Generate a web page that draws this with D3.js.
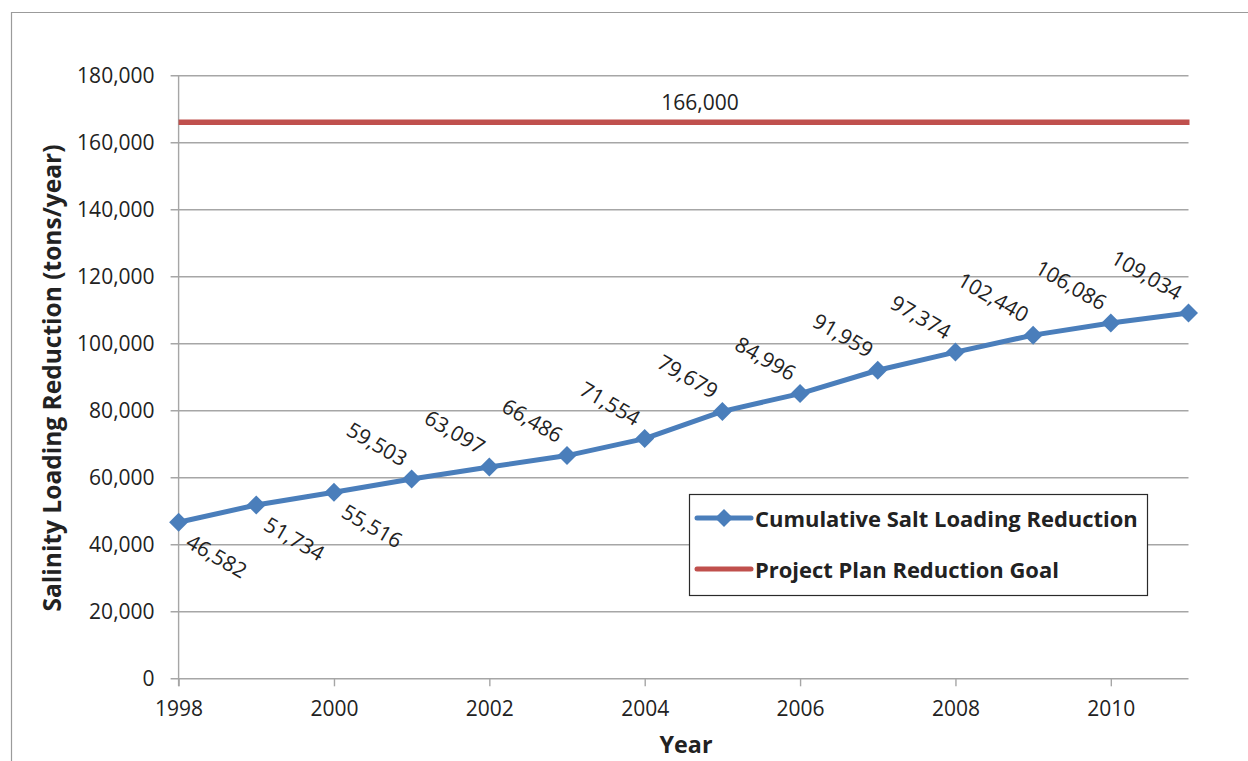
<!DOCTYPE html>
<html>
<head>
<meta charset="utf-8">
<script src="https://cdn.jsdelivr.net/npm/d3@7/dist/d3.min.js"></script>
<style>
  html, body { margin: 0; padding: 0; background: #fff; }
  svg { display: block; }
  text { font-family: "Open Sans", "Liberation Sans", sans-serif; fill: #222; }
</style>
</head>
<body>
<svg id="chart" width="1248" height="761"></svg>
<script>
// ---- data ----
const years = [1998, 1999, 2000, 2001, 2002, 2003, 2004, 2005, 2006, 2007, 2008, 2009, 2010, 2011];
const cumulative = [46582, 51734, 55516, 59503, 63097, 66486, 71554, 79679, 84996, 91959, 97374, 102440, 106086, 109034];
const goalValue = 166000;
const yTicks = [0, 20000, 40000, 60000, 80000, 100000, 120000, 140000, 160000, 180000];
const xTicks = [1998, 2000, 2002, 2004, 2006, 2008, 2010];
const seriesNames = ["Cumulative Salt Loading Reduction", "Project Plan Reduction Goal"];
const xTitle = "Year";
const yTitle = "Salinity Loading Reduction (tons/year)";

// ---- layout ----
const svg = d3.select("#chart");
const W = 1248, H = 761;
const blue = "#4a7ebb", red = "#c0504d", grid = "#a6a6a6";
const fmt = d3.format(",");

const x = d3.scaleLinear().domain([1998, 2011]).range([178.6, 1188.5]);
const y = d3.scaleLinear().domain([0, 180000]).range([678.3, 75.3]);

// outer frame
svg.append("path")
  .attr("d", `M11.5,${H} L11.5,12.5 L${W},12.5`)
  .attr("fill", "none").attr("stroke", "#9b9b9b").attr("stroke-width", 1.2);

// y gridlines + ticks
const yAxis = d3.axisLeft(y).tickValues(yTicks).tickFormat(fmt)
  .tickSize(-(x.range()[1] - x.range()[0])).tickSizeOuter(0).tickPadding(24);
const gy = svg.append("g").attr("transform", `translate(${x.range()[0]},0)`).call(yAxis);
gy.select(".domain").remove();
gy.selectAll(".tick line").attr("stroke", grid).attr("stroke-width", 1.4)
  .attr("x1", -8);
gy.selectAll(".tick text").attr("font-size", 21).attr("fill", "#222")
  .attr("font-family", "Open Sans");

// vertical axis line
svg.append("line")
  .attr("x1", x.range()[0]).attr("x2", x.range()[0])
  .attr("y1", y(180000)).attr("y2", y(0) + 8)
  .attr("stroke", grid).attr("stroke-width", 1.4);

// x axis
const xAxis = d3.axisBottom(x).tickValues(xTicks).tickFormat(d3.format("d"))
  .tickSize(8).tickSizeOuter(0).tickPadding(15);
const gx = svg.append("g").attr("transform", `translate(0,${y(0)})`).call(xAxis);
gx.select(".domain").remove();
gx.selectAll(".tick line").attr("stroke", grid).attr("stroke-width", 1.4);
gx.selectAll(".tick text").attr("font-size", 21).attr("fill", "#222")
  .attr("font-family", "Open Sans");

// goal line
svg.append("line")
  .attr("x1", x(1998)).attr("x2", x(2011) + 1)
  .attr("y1", y(goalValue)).attr("y2", y(goalValue))
  .attr("stroke", red).attr("stroke-width", 5.5);
svg.append("text")
  .attr("x", 700).attr("y", y(goalValue) - 12)
  .attr("text-anchor", "middle").attr("font-size", 21)
  .text(fmt(goalValue));

// cumulative line
const pts = years.map((yr, i) => ({ yr, v: cumulative[i], i }));
svg.append("path")
  .datum(pts)
  .attr("d", d3.line().x(d => x(d.yr)).y(d => y(d.v)))
  .attr("fill", "none").attr("stroke", blue).attr("stroke-width", 5)
  .attr("stroke-linejoin", "round");

const diamond = r => `M0,${-r} L${r},0 L0,${r} L${-r},0 Z`;
svg.append("g").selectAll("path").data(pts).join("path")
  .attr("transform", d => `translate(${x(d.yr)},${y(d.v)})`)
  .attr("d", diamond(9.5)).attr("fill", blue);

// data labels, rotated 30deg
svg.append("g").selectAll("text").data(pts).join("text")
  .attr("font-size", 21)
  .attr("text-anchor", d => d.i < 3 ? "start" : "end")
  .attr("transform", d => {
    const below = d.i < 3;
    let ax = x(d.yr) + (below ? 6 : -10);
    const ay = y(d.v) + (below ? 24 : -12);
    if (!below) ax = Math.min(ax, x.range()[1] - 12);
    return `translate(${ax},${ay}) rotate(30)`;
  })
  .text(d => fmt(d.v));

// axis titles (fit width)
function fitText(sel, target) {
  const w = sel.node().getComputedTextLength();
  const fs = parseFloat(sel.attr("font-size"));
  sel.attr("font-size", fs * target / w);
}
const xt = svg.append("text")
  .attr("x", 686).attr("y", 753).attr("text-anchor", "middle")
  .attr("font-weight", "bold").attr("font-size", 25).text(xTitle);
fitText(xt, 53);
const yt = svg.append("text")
  .attr("transform", "translate(61,378) rotate(-90)").attr("text-anchor", "middle")
  .attr("font-weight", "bold").attr("font-size", 25).text(yTitle);
fitText(yt, 467);

// legend
const lg = svg.append("g");
lg.append("rect").attr("x", 689.5).attr("y", 494.5).attr("width", 458).attr("height", 101)
  .attr("fill", "#fff").attr("stroke", "#2a2a2a").attr("stroke-width", 1.2);
const legendRows = [
  { name: seriesNames[0], color: blue, marker: true, yy: 518 },
  { name: seriesNames[1], color: red, marker: false, yy: 569 }
];
legendRows.forEach((r, k) => {
  lg.append("line").attr("x1", 697).attr("x2", 751).attr("y1", r.yy).attr("y2", r.yy)
    .attr("stroke", r.color).attr("stroke-width", 5).attr("stroke-linecap", "round");
  if (r.marker) {
    lg.append("path").attr("transform", `translate(724,${r.yy})`).attr("d", diamond(9)).attr("fill", r.color);
  }
  const t = lg.append("text").attr("x", 755).attr("y", r.yy + 9)
    .attr("font-weight", "bold").attr("font-size", 21).text(r.name);
  if (k === 0) fitText(t, 383);
  else t.attr("font-size", lg.select("text").attr("font-size"));
});
</script>
</body>
</html>
